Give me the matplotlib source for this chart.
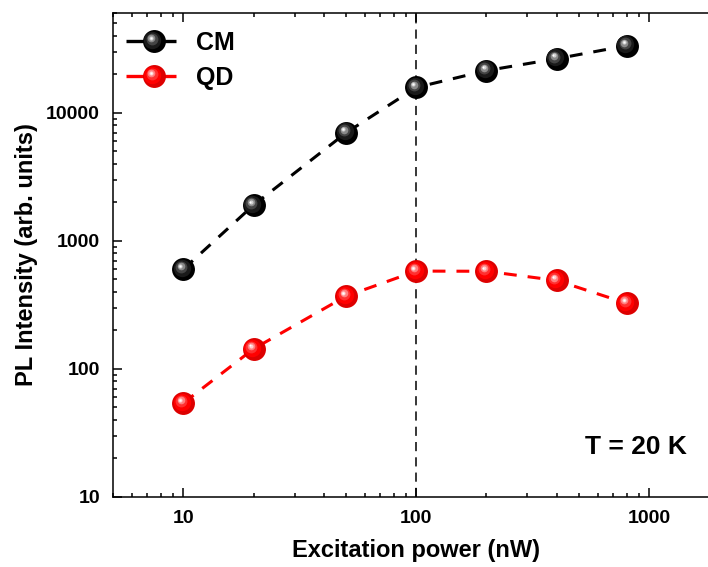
import matplotlib
matplotlib.use("Agg")
import matplotlib.pyplot as plt
from matplotlib.lines import Line2D
from matplotlib.legend_handler import HandlerLine2D
from matplotlib.transforms import ScaledTranslation
from matplotlib.ticker import LogLocator, FixedLocator, NullFormatter

plt.rcParams['font.family'] = ['Liberation Sans', 'DejaVu Sans']
plt.rcParams['font.weight'] = 'bold'

# Power-dependent PL intensity at T = 20 K
power_nw = [10, 20, 50, 100, 200, 400, 800]
cm_intensity = [600, 1900, 7000, 15800, 21400, 26500, 33500]
qd_intensity = [54, 143, 370, 580, 578, 490, 325]

series_labels = ["CM", "QD"]
x_ticks = [10, 100, 1000]
y_ticks = [10, 100, 1000, 10000]
temperature_text = "T = 20 K"

DPI = 100
fig = plt.figure(figsize=(7.08, 5.67), dpi=DPI)
ax = fig.add_axes([0.160, 0.124, 0.856, 0.8525])

ax.set_xscale('log')
ax.set_yscale('log')
ax.set_xlim(5, 2000)
ax.set_ylim(10, 60000)

# shaded "sphere" markers: base disc plus lighter offset layers
sphere_styles = {
    "CM": dict(line='black', layers=[('#000000', 16.5, 0, 0),
                                     ('#1a1a1a', 12.5, -0.9, 0.9),
                                     ('#444444', 8.5, -1.5, 1.6),
                                     ('#8a8a8a', 5.5, -1.9, 2.1),
                                     ('#d0d0d0', 3.0, -2.1, 2.4),
                                     ('#ffffff', 1.4, -2.2, 2.5)]),
    "QD": dict(line='#ff0000', layers=[('#dd0000', 16.5, 0, 0),
                                       ('#ff0000', 12.5, -0.9, 0.9),
                                       ('#ff3030', 8.5, -1.5, 1.6),
                                       ('#ff8080', 5.5, -1.9, 2.1),
                                       ('#ffd0d0', 3.0, -2.1, 2.4),
                                       ('#ffffff', 1.4, -2.2, 2.5)]),
}


class SphereHandle:
    def __init__(self, line_color, layers):
        self.line_color = line_color
        self.layers = layers


class SphereHandler(HandlerLine2D):
    def create_artists(self, legend, orig_handle, xdescent, ydescent,
                       width, height, fontsize, trans):
        y = height / 2 - ydescent
        x0, x1 = -xdescent, -xdescent + width
        artists = [Line2D([x0, x1], [y, y], color=orig_handle.line_color,
                          lw=2.4, solid_capstyle='butt', transform=trans)]
        xm = (x0 + x1) / 2 + 2
        for color, ms, dx, dy in orig_handle.layers:
            off = ScaledTranslation(dx / 72, dy / 72, legend.figure.dpi_scale_trans)
            artists.append(Line2D([xm], [y], ls='none', marker='o', ms=ms,
                                  mfc=color, mec='none', transform=trans + off))
        return artists


def draw_series(xs, ys, style):
    ax.plot(xs, ys, color=style['line'], lw=2.2, ls=(0, (4.2, 3.6)), zorder=3)
    for color, ms, dx, dy in style['layers']:
        off = ScaledTranslation(dx / 72, dy / 72, fig.dpi_scale_trans)
        ax.plot(xs, ys, ls='none', marker='o', ms=ms, mfc=color, mec='none',
                transform=ax.transData + off, zorder=4, clip_on=False)


draw_series(power_nw, cm_intensity, sphere_styles["CM"])
draw_series(power_nw, qd_intensity, sphere_styles["QD"])

ax.axvline(100, color='black', lw=1.1, ls=(0, (6, 4)), zorder=2)

# ticks
ax.xaxis.set_major_locator(FixedLocator(x_ticks))
ax.yaxis.set_major_locator(FixedLocator(y_ticks))
ax.set_xticklabels([str(v) for v in x_ticks])
ax.set_yticklabels([str(v) for v in y_ticks])
ax.xaxis.set_minor_locator(LogLocator(base=10, subs=range(2, 10), numticks=20))
ax.yaxis.set_minor_locator(LogLocator(base=10, subs=range(2, 10), numticks=20))
ax.xaxis.set_minor_formatter(NullFormatter())
ax.yaxis.set_minor_formatter(NullFormatter())
ax.tick_params(which='both', direction='in', top=True, right=True,
               width=1.1, colors='black')
ax.tick_params(which='major', length=6.5, pad=9.5, labelsize=14)
ax.tick_params(which='minor', length=3.2)
for lab in ax.get_xticklabels() + ax.get_yticklabels():
    lab.set_fontweight('bold')

for sp in ax.spines.values():
    sp.set_linewidth(1.1)

ax.set_xlabel("Excitation power (nW)", fontsize=17, fontweight='bold', labelpad=9)
ax.set_ylabel("PL Intensity (arb. units)", fontsize=17, fontweight='bold', labelpad=6)

handles = [SphereHandle(sphere_styles[k]['line'], sphere_styles[k]['layers'])
           for k in series_labels]
leg = ax.legend(handles, series_labels, handler_map={SphereHandle: SphereHandler()},
                loc='upper left', frameon=False, fontsize=18, handlelength=2.0,
                handletextpad=0.8, labelspacing=0.45, borderaxespad=0.3,
                bbox_to_anchor=(-0.008, 1.0))
for t in leg.get_texts():
    t.set_fontweight('bold')

fig.text(687 / 708, 1 - 447 / 567, temperature_text, ha='right', va='center',
         fontsize=19, fontweight='bold')

fig.savefig("out.png", dpi=DPI)
